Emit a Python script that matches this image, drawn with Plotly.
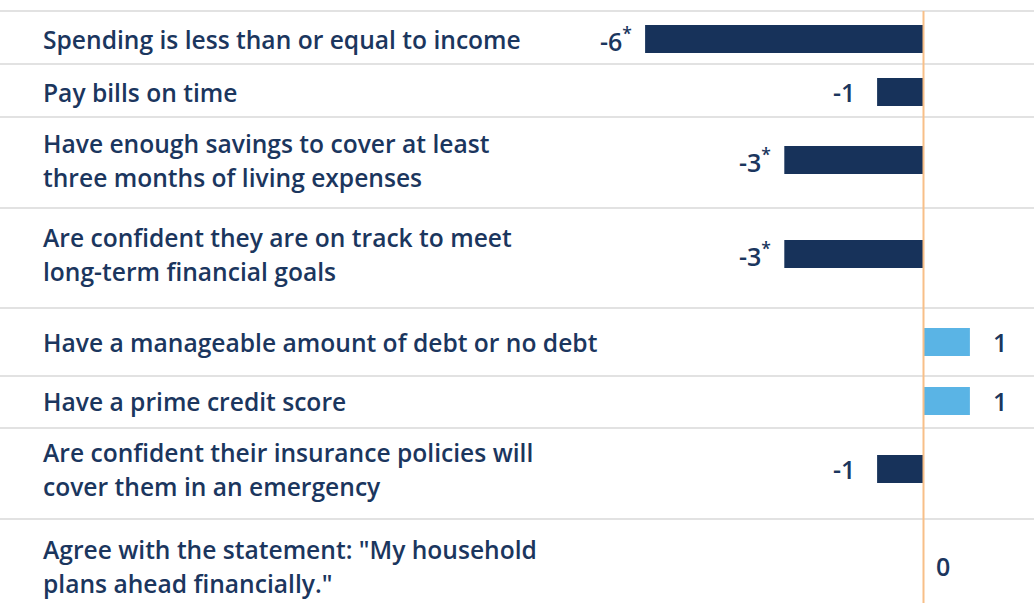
import plotly.graph_objects as go

# Survey measures (top to bottom) and change in percentage points
categories = [
    "Spending is less than or equal to income",
    "Pay bills on time",
    "Have enough savings to cover at least<br>three months of living expenses",
    "Are confident they are on track to meet<br>long-term financial goals",
    "Have a manageable amount of debt or no debt",
    "Have a prime credit score",
    "Are confident their insurance policies will<br>cover them in an emergency",
    "Agree with the statement: \"My household<br>plans ahead financially.\"",
]
changes = [-6, -1, -3, -3, 1, 1, -1, 0]
significant = [True, False, True, True, False, False, False, False]

# Layout: page size, row geometry (in pixels from the top)
W, H = 1034, 603
ZERO_PX = 923.5
PX_PER_UNIT = 46.4
LABEL_LEFT_PX = 41
row_centers = [39, 92, 160, 254, 342, 401, 469, 566]
row_rules = [11, 64, 117, 208, 308, 376, 428, 519]
BAR_THICKNESS = 28
LINE_GAP = 34

NAVY = "#17325a"
LIGHT_BLUE = "#5ab4e5"
TEXT = "#1b365e"
RULE = "#d9d9d9"
ZERO_LINE = "#f8bf88"
FONT = "Open Sans"

x_range = [-ZERO_PX / PX_PER_UNIT, (W - ZERO_PX) / PX_PER_UNIT]
label_x = x_range[0] + LABEL_LEFT_PX / PX_PER_UNIT

bar_colors = [LIGHT_BLUE if v > 0 else NAVY for v in changes]

fig = go.Figure(
    go.Bar(
        x=changes,
        y=row_centers,
        orientation="h",
        width=BAR_THICKNESS,
        marker=dict(color=bar_colors, line=dict(width=0)),
        hoverinfo="skip",
    )
)

shapes = []
for y in row_rules:
    shapes.append(dict(type="line", xref="paper", yref="y", x0=0, x1=1, y0=y, y1=y,
                       line=dict(color=RULE, width=1.5), layer="below"))
shapes.append(dict(type="line", xref="x", yref="y", x0=0, x1=0, y0=row_rules[0], y1=H,
                   line=dict(color=ZERO_LINE, width=2), layer="above"))

annotations = []
# Category labels, one annotation per text line
for label, yc in zip(categories, row_centers):
    lines = label.split("<br>")
    n = len(lines)
    for i, line in enumerate(lines):
        y = yc + (i - (n - 1) / 2) * LINE_GAP
        annotations.append(dict(
            x=label_x, xref="x", y=y, yref="y",
            text=line, showarrow=False, xanchor="left", yanchor="middle",
            font=dict(family=FONT, size=24.6, color=TEXT, weight=600),
        ))

# Value labels
for v, yc, sig in zip(changes, row_centers, significant):
    txt = f"{v}" + ("<sup>*</sup>" if sig else "")
    if v < 0:
        anchor, shift = "right", (-11 if sig else -20)
    elif v > 0:
        anchor, shift = "left", 21
    else:
        anchor, shift = "left", 10
    annotations.append(dict(
        x=v, xref="x", y=yc, yref="y", text=txt, showarrow=False,
        xanchor=anchor, yanchor="middle", xshift=shift,
        font=dict(family=FONT, size=25, color=TEXT, weight=600),
    ))

fig.update_layout(
    width=W, height=H,
    margin=dict(l=0, r=0, t=0, b=0),
    paper_bgcolor="white", plot_bgcolor="white",
    showlegend=False,
    xaxis=dict(range=x_range, visible=False, fixedrange=True),
    yaxis=dict(range=[H, 0], visible=False, fixedrange=True),
    shapes=shapes,
    annotations=annotations,
    font=dict(family=FONT),
)

fig.write_html("out.html", config={"displayModeBar": False})
